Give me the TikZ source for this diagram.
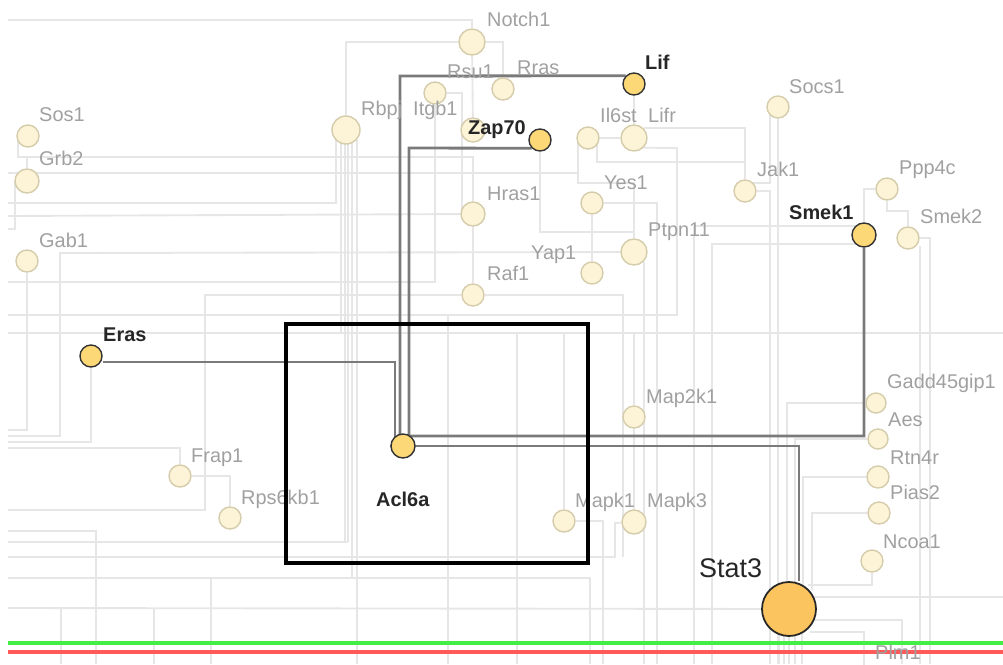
\documentclass[tikz,border=0pt]{standalone}
\usepackage{fontspec}
\setmainfont{Liberation Sans}
\usetikzlibrary{backgrounds}
\definecolor{cream}{HTML}{FDF3D6}
\definecolor{creamline}{HTML}{D4CCAA}
\definecolor{gold}{HTML}{FCD877}
\definecolor{hubfill}{HTML}{FCC45E}
\definecolor{labgray}{HTML}{A0A0A0}
\definecolor{edgegray}{HTML}{E6E6E6}
\definecolor{linkgray}{HTML}{7A7A7A}
\definecolor{railgreen}{HTML}{44EE44}
\definecolor{railred}{HTML}{FF5A5A}

\tikzset{
  gene/.style={circle,draw=creamline,fill=cream,line width=1.2pt,inner sep=0pt},
  hit/.style={circle,draw=black!80,fill=gold,line width=1.2pt,inner sep=0pt},
  glab/.style={anchor=base west,inner sep=0pt,text=labgray,
    font=\fontsize{17}{17}\selectfont},
  hlab/.style={glab,text=black!85,font=\fontsize{17}{17}\selectfont\bfseries},
  faint/.style={draw=edgegray,line width=1.6pt},
  link/.style={draw=linkgray,line width=2.4pt},
}

\begin{document}
\begin{tikzpicture}[x=0.03cm,y=-0.03cm]
  \useasboundingbox (0,0) rectangle (1003,664);
  \clip (0,0) rectangle (1003,664);

  % genes
  \node[gene,minimum size=0.78cm] (Notch1) at (472,42) {};
  \node[gene,minimum size=0.66cm] (Rsu1) at (435,93) {};
  \node[gene,minimum size=0.66cm] (Rras) at (503,89) {};
  \node[hit,minimum size=0.66cm] (Lif) at (634,84) {};
  \node[gene,minimum size=0.84cm] (Rbpj) at (346,130) {};
  \node[gene,minimum size=0.72cm] (Itgb1) at (473,130) {};
  \node[hit,minimum size=0.66cm] (Zap70) at (540,140) {};
  \node[gene,minimum size=0.66cm] (Il6st) at (588,138) {};
  \node[gene,minimum size=0.78cm] (Lifr) at (634,138) {};
  \node[gene,minimum size=0.66cm] (Socs1) at (778,107) {};
  \node[gene,minimum size=0.66cm] (Jak1) at (745,191) {};
  \node[gene,minimum size=0.66cm] (Ppp4c) at (887,189) {};
  \node[hit,minimum size=0.72cm] (Smek1) at (864,235) {};
  \node[gene,minimum size=0.66cm] (Smek2) at (908,238) {};
  \node[gene,minimum size=0.66cm] (Yes1) at (592,203) {};
  \node[gene,minimum size=0.78cm] (Ptpn11) at (634,252) {};
  \node[gene,minimum size=0.66cm] (Yap1) at (592,273) {};
  \node[gene,minimum size=0.72cm] (Hras1) at (473,214) {};
  \node[gene,minimum size=0.66cm] (Raf1) at (473,295) {};
  \node[gene,minimum size=0.66cm] (Sos1) at (28,136) {};
  \node[gene,minimum size=0.72cm] (Grb2) at (27,181) {};
  \node[gene,minimum size=0.66cm] (Gab1) at (27,261) {};
  \node[hit,minimum size=0.66cm] (Eras) at (91,356) {};
  \node[gene,minimum size=0.66cm] (Frap1) at (180,476) {};
  \node[gene,minimum size=0.66cm] (Rps6kb1) at (230,518) {};
  \node[hit,minimum size=0.72cm] (Acl6a) at (403,446) {};
  \node[gene,minimum size=0.66cm] (Map2k1) at (634,417) {};
  \node[gene,minimum size=0.66cm] (Mapk1) at (564,521) {};
  \node[gene,minimum size=0.72cm] (Mapk3) at (634,522) {};
  \node[circle,draw=black!85,fill=hubfill,line width=1.5pt,inner sep=0pt,
    minimum size=1.62cm] (Stat3) at (789,609) {};
  \node[gene,minimum size=0.6cm] (Gadd45gip1) at (876,403) {};
  \node[gene,minimum size=0.6cm] (Aes) at (878,439) {};
  \node[gene,minimum size=0.66cm] (Rtn4r) at (878,477) {};
  \node[gene,minimum size=0.66cm] (Pias2) at (879,513) {};
  \node[gene,minimum size=0.66cm] (Ncoa1) at (872,561) {};
  \node[gene,minimum size=0.66cm] (Plm1) at (864,677) {};

  % labels
  \node[glab] (Notch1-l) at (487,26) {Notch1};
  \node[glab] (Rsu1-l) at (447,78) {Rsu1};
  \node[glab] (Rras-l) at (517,74) {Rras};
  \node[hlab] (Lif-l) at (645,69) {Lif};
  \node[glab] (Rbpj-l) at (361,115) {Rbpj};
  \node[glab] (Itgb1-l) at (413,115) {Itgb1};
  \node[hlab] (Zap70-l) at (468,134) {Zap70};
  \node[glab] (Il6st-l) at (600,122) {Il6st};
  \node[glab] (Lifr-l) at (648,122) {Lifr};
  \node[glab] (Socs1-l) at (789,93) {Socs1};
  \node[glab] (Jak1-l) at (757,176) {Jak1};
  \node[glab] (Ppp4c-l) at (899,174) {Ppp4c};
  \node[hlab] (Smek1-l) at (789,219) {Smek1};
  \node[glab] (Smek2-l) at (920,223) {Smek2};
  \node[glab] (Yes1-l) at (604,189) {Yes1};
  \node[glab] (Ptpn11-l) at (648,236) {Ptpn11};
  \node[glab] (Yap1-l) at (531,259) {Yap1};
  \node[glab] (Hras1-l) at (487,200) {Hras1};
  \node[glab] (Raf1-l) at (487,280) {Raf1};
  \node[glab] (Sos1-l) at (39,121) {Sos1};
  \node[glab] (Grb2-l) at (39,165) {Grb2};
  \node[glab] (Gab1-l) at (39,247) {Gab1};
  \node[hlab] (Eras-l) at (103,341) {Eras};
  \node[glab] (Frap1-l) at (191,462) {Frap1};
  \node[glab] (Rps6kb1-l) at (241,504) {Rps6kb1};
  \node[hlab] (Acl6a-l) at (376,506) {Acl6a};
  \node[glab] (Map2k1-l) at (646,403) {Map2k1};
  \node[glab] (Mapk1-l) at (575,507) {Mapk1};
  \node[glab] (Mapk3-l) at (647,507) {Mapk3};
  \node[anchor=base west,inner sep=0pt,text=black!85,
    font=\fontsize{23}{23}\selectfont] (Stat3-l) at (699,577) {Stat3};
  \node[glab] (Gadd45gip1-l) at (887,388) {Gadd45gip1};
  \node[glab] (Aes-l) at (888,426) {Aes};
  \node[glab] (Rtn4r-l) at (890,464) {Rtn4r};
  \node[glab] (Pias2-l) at (890,499) {Pias2};
  \node[glab] (Ncoa1-l) at (883,548) {Ncoa1};
  \node[glab] (Plm1-l) at (875,659) {Plm1};

  \begin{scope}[on background layer]
    % faint network, left part
    \draw[faint] (Notch1) |- (8,20);
    \draw[faint] (Rbpj) |- (Notch1);
    \draw[faint] (Notch1) -| (Rras);
    \draw[faint] (Notch1) -- (Itgb1);
    \draw[faint] (Sos1.center) ++(-10,0) |- (27,157) -- (Grb2);
    \draw[faint] (Grb2) |- (473,157) -- (Hras1);
    \draw[faint] (Grb2.center) ++(-12,0) |- (8,229);
    \draw[faint] (8,173) -- (578,173);
    \draw[faint] (8,203) -| (336,140);
    \draw[faint] (8,216) -- (Hras1);
    \draw[faint] (Rsu1.east) -| (462,216);
    \draw[faint] (8,436) -| (60,253) -- (Ptpn11);
    \draw[faint] (8,282) -| (Rsu1);
    \draw[faint] (8,510) -| (205,295) -- (Raf1);
    \draw[faint] (Raf1) -| (623,557);
    \draw[faint] (8,315) -| (677,148) -- (Lifr.south east);
    \draw[faint] (8,333) -- (1003,333);
    \draw[faint] (Gab1) |- (8,430);
    \draw[faint] (Eras) |- (8,442);
    \draw[faint] (Frap1) |- (8,448);
    \draw[faint] (Frap1) -| (Rps6kb1);
    \draw[faint] (8,531) -| (96,664);
    \foreach \x/\y in {341/333,345/542,348/542,352/578,357/664}
      \draw[faint] (\x,140) -- (\x,\y);
    \draw[faint] (8,542) -- (348,542);
    \draw[faint] (8,557) -| (615,523) -- (Mapk3);
    \draw[faint] (8,578) -| (590,664);
    \draw[faint] (8,608) -- (Stat3);
    \draw[faint] (Hras1) -- (Raf1);
    \draw[faint] (448,315) -- (448,664);
    \draw[faint] (517,333) -- (517,664);
    \draw[faint] (211,578) -- (211,664);
    \foreach \x in {61,154}
      \draw[faint] (\x,608) -- (\x,664);
    % faint network, right part
    \draw[faint] (Il6st) -- (Lifr);
    \draw[faint] (Lif) -- (Lifr);
    \draw[faint] (Lifr.north east) -| (Jak1);
    \draw[faint] (Il6st.center) ++(9,0) |- (745,162);
    \draw[faint] (Il6st.center) ++(-10,0) |- (634,183) -- (Ptpn11);
    \draw[faint] (Socs1.center) ++(-8,0) |- (Jak1.north east);
    \draw[faint] (Jak1) -| (770,664);
    \draw[faint] (Socs1) -- (778,664);
    \draw[faint] (Smek1.north west) -| (694,664);
    \draw[faint] (Smek1.south west) -| (712,664);
    \draw[faint] (Ppp4c) -| (Smek1);
    \draw[faint] (Ppp4c) |- (908,211) -- (Smek2);
    \draw[faint] (Smek2) -| (930,664);
    \draw[faint] (920,246) -- (920,664);
    \draw[faint] (Yes1) -- (Yap1);
    \draw[faint] (Yes1) -| (657,664);
    \draw[faint] (Zap70) |- (634,232) -- (Ptpn11);
    \draw[faint] (644,262) -- (644,664);
    \draw[faint] (Map2k1) -- (634,333);
    \draw[faint] (Map2k1) -- (Mapk3);
    \draw[faint] (Mapk1) -- (564,333);
    \draw[faint] (Mapk1) -| (603,664);
    \draw[faint] (Gadd45gip1) -| (787,590);
    \draw[faint] (Aes) -| (795,590);
    \draw[faint] (Rtn4r) -| (803,590);
    \draw[faint] (Pias2) -| (812,590);
    \draw[faint] (Ncoa1) |- (808,585);
    \draw[faint] (810,597) -- (1003,597);
    \draw[faint] (810,620) -| (902,664);
    \draw[faint] (810,632) -| (Plm1);
    \foreach \x in {779,784,789,795,802}
      \draw[faint] (\x,630) -- (\x,664);
    % rails
    \draw[railgreen,line width=2.8pt] (8,643) -- (1003,643);
    \draw[railred,line width=2.8pt] (8,652) -- (1003,652);
    % highlighted links
    \draw[link] (Lif.north west) -- (400,76) |- (Acl6a);
    \draw[link] (Zap70.south west) -- (409,148) |- (Acl6a);
    \draw[link] (Smek1) |- (409,436) -- (Acl6a);
    \draw[link] ([yshift=-0.18cm]Eras.east) -- (395,362) |- (Acl6a);
    \draw[link] (Acl6a) -| ([xshift=0.3cm]Stat3.north);
  \end{scope}

  % selection box
  \draw[line width=2.8pt] (286,324) rectangle (588,563);
\end{tikzpicture}
\end{document}
